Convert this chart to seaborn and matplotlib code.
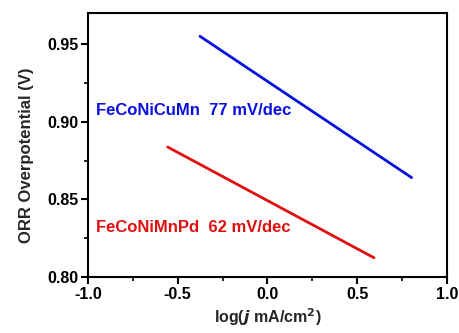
import matplotlib
matplotlib.use("Agg")
import matplotlib.pyplot as plt
import seaborn as sns
import pandas as pd
from matplotlib.ticker import MultipleLocator, FormatStrFormatter

sns.set_style("ticks")
plt.rcParams['font.family'] = ['Liberation Sans', 'DejaVu Sans']
plt.rcParams['font.weight'] = 'bold'

cu_x = [-0.376, 0.803]
cu_y = [0.955, 0.864]
pd_x = [-0.556, 0.593]
pd_y = [0.8837, 0.8124]
labels = ["FeCoNiCuMn  77 mV/dec", "FeCoNiMnPd  62 mV/dec"]
colors = ["#0a10e0", "#e01010"]

df = pd.concat([
    pd.DataFrame({"x": cu_x, "y": cu_y, "s": labels[0]}),
    pd.DataFrame({"x": pd_x, "y": pd_y, "s": labels[1]}),
])

fig = plt.figure(figsize=(4.6, 3.33), dpi=100)
ax = fig.add_axes([88/460, 1-277/333, (447-88)/460, (277-13)/333])
sns.lineplot(data=df, x="x", y="y", hue="s", palette=colors, lw=2, ax=ax, legend=False)

ax.text(-0.955, 0.9075, labels[0], color=colors[0], fontsize=12, fontweight='bold', va='center')
ax.text(-0.955, 0.8316, labels[1], color=colors[1], fontsize=12, fontweight='bold', va='center')

ax.set_xlim(-1.0, 1.0)
ax.set_ylim(0.80, 0.97)
ax.xaxis.set_major_locator(MultipleLocator(0.5))
ax.xaxis.set_minor_locator(MultipleLocator(0.25))
ax.yaxis.set_major_locator(MultipleLocator(0.05))
ax.yaxis.set_minor_locator(MultipleLocator(0.025))
ax.xaxis.set_major_formatter(FormatStrFormatter('%.1f'))
ax.yaxis.set_major_formatter(FormatStrFormatter('%.2f'))
for sp in ax.spines.values():
    sp.set_linewidth(1.5)
    sp.set_color('black')
ax.tick_params(which='major', length=5, width=1.5, labelsize=11.5, colors='black', pad=2)
ax.tick_params(which='minor', length=3, width=1.2, colors='black')
for lab in ax.get_xticklabels() + ax.get_yticklabels():
    lab.set_fontweight('bold')
ax.set_xlabel(r"log($\mathit{j}$ mA/cm$^{\mathbf{2}}$)", fontsize=11.5, fontweight='bold')
ax.set_ylabel("ORR Overpotential (V)", fontsize=12, fontweight='bold')
ax.xaxis.set_label_coords(0.5, -(306-277)/264, transform=ax.transAxes)
ax.yaxis.set_label_coords(-(88-34)/359, (277-155)/264, transform=ax.transAxes)
fig.savefig("out.png", dpi=100)
